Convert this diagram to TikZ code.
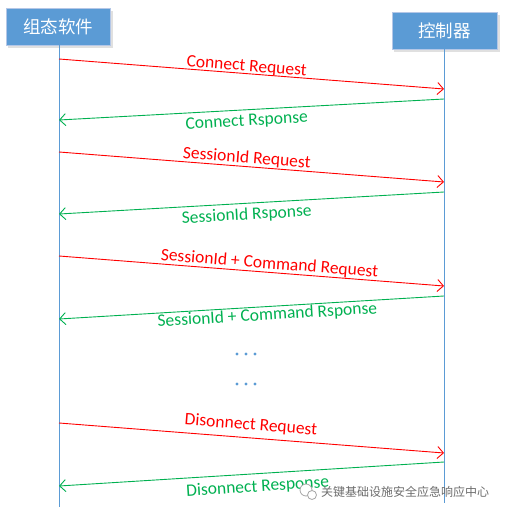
\documentclass[tikz,border=0pt]{standalone}
\usepackage{fontspec}
\setmainfont{Carlito}
\newfontfamily\cjk{Noto Sans CJK SC}
\usetikzlibrary{arrows.meta}
\definecolor{boxblue}{HTML}{5B9BD5}
\definecolor{boxedge}{HTML}{B4C7E7}
\definecolor{reqred}{HTML}{FF0000}
\definecolor{respgreen}{HTML}{00B050}
\definecolor{lifeblue}{HTML}{5B9BD5}
\tikzset{
  actor/.style={draw=boxedge, line width=0.8pt, fill=boxblue, text=white,
    font=\cjk\fontsize{17.5}{20}\selectfont, minimum height=37pt, inner sep=0pt},
  lifeline/.style={draw=lifeblue, line width=1pt},
  msgtip/.style={-{Straight Barb[length=6pt,width=12pt,line width=0.9pt]}},
  req/.style={draw=reqred, line width=0.9pt, msgtip},
  resp/.style={draw=respgreen, line width=0.9pt, msgtip},
  reqlab/.style={text=reqred, font=\fontsize{17.5}{20}\selectfont, sloped, anchor=base, inner sep=0pt},
  resplab/.style={text=respgreen, font=\fontsize{17.5}{20}\selectfont, sloped, anchor=base, inner sep=0pt},
  dot/.style={fill=lifeblue, draw=none},
}
\begin{document}
\begin{tikzpicture}[x=1pt,y=-1pt]
\useasboundingbox (0,0) rectangle (505,513);
% shadows
\fill[black, opacity=0.12] (8,11) rectangle (113,48);
\fill[black, opacity=0.12] (394,15) rectangle (500,52);
% actor boxes
\node[actor, minimum width=104pt] (L) at (58,26.5) {组态软件};
\node[actor, minimum width=105pt] (R) at (444.5,30.5) {控制器};
% lifelines
\coordinate (Lend) at (59,507);
\coordinate (Rend) at (444,503);
\draw[lifeline] (L.south -| Lend) -- (Lend);
\draw[lifeline] (R.south -| Rend) -- (Rend);
% message end points
\coordinate (a1) at (59,59);   \coordinate (b1) at (444,89);
\coordinate (b2) at (444,99);  \coordinate (a2) at (59,120);
\coordinate (a3) at (59,152);  \coordinate (b3) at (444,182);
\coordinate (b4) at (444,192); \coordinate (a4) at (59,214);
\coordinate (a5) at (59,256);  \coordinate (b5) at (444,286);
\coordinate (b6) at (444,296); \coordinate (a6) at (59,319);
\coordinate (a7) at (59,423);  \coordinate (b7) at (444,453);
\coordinate (b8) at (444,462); \coordinate (a8) at (59,486);
% messages
\draw[req] (a1) -- node[reqlab, pos=0.486, yshift=2.5pt] (m1) {Connect Request} (b1);
\draw[resp] (b2) -- node[resplab, pos=0.514, yshift=-16pt] (m2) {Connect Rsponse} (a2);
\draw[req] (a3) -- node[reqlab, pos=0.486, yshift=3.5pt] (m3) {SessionId Request} (b3);
\draw[resp] (b4) -- node[resplab, pos=0.514, yshift=-16.5pt] (m4) {SessionId Rsponse} (a4);
\draw[req] (a5) -- node[reqlab, pos=0.545, yshift=3.7pt] (m5) {SessionId + Command Request} (b5);
\draw[resp] (b6) -- node[resplab, pos=0.46, yshift=-13.5pt] (m6) {SessionId + Command Rsponse} (a6);
\draw[req] (a7) -- node[reqlab, pos=0.496, yshift=8pt] (m7) {Disonnect Request} (b7);
\draw[resp] (b8) -- node[resplab, pos=0.486, yshift=-18pt] (m8) {Disonnect Response} (a8);
% ellipsis dots
\foreach \yy in {354,384} {
  \foreach \xx in {237,246,255} {
    \fill[dot] (\xx,\yy) circle (1.7pt);
  }
}
% watermark
\draw[gray!70, line width=0.8pt, fill=white] (306,490) circle (6pt);
\draw[gray!70, line width=0.8pt, fill=white] (312,495) circle (4.5pt);
\node[anchor=west, inner sep=0pt, text=gray!85!black, font=\cjk\fontsize{12}{14}\selectfont] (wm) at (321,492) {关键基础设施安全应急响应中心};
\end{tikzpicture}
\end{document}
